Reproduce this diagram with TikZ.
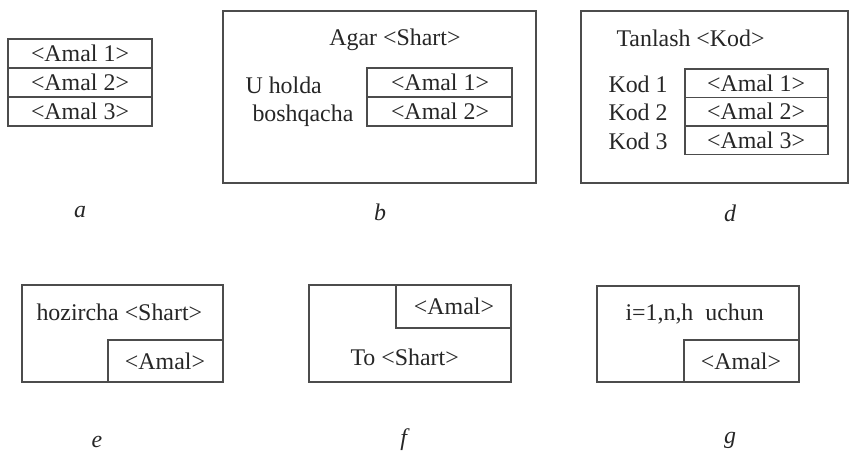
\documentclass[tikz,border=0pt]{standalone}
\usepackage{fontspec}
\setmainfont{Liberation Serif}
\begin{document}
\begin{tikzpicture}[x=0.02cm, y=-0.02cm, line width=.6pt,
    every node/.style={font=\fontsize{13.6}{16}\selectfont, inner sep=0pt, text=black!85},
    blok/.style={draw=black!70}]
\useasboundingbox (0,0) rectangle (853,453);

% a
\foreach \i/\y in {1/39,2/68,3/97}
{
    \draw[blok] (8,\y) rectangle (152,\y+29);
    \node (a\i) at (80,\y+14.5) {<Amal \i>};
}
\node (la) at (80,212) {\textit{a}};

% b
\draw[blok] (223,11) rectangle (536,183);
\node (bshart) at (395,40) {Agar <Shart>};
\foreach \i/\y in {1/68,2/97}
{
    \draw[blok] (367,\y) rectangle (512,\y+29);
    \node (b\i) at (440,\y+14.5) {<Amal \i>};
}
\node[anchor=base west] (bholda) at (245,93) {U holda};
\node[anchor=base west] (bbosh) at (252,121) {boshqacha};
\node (lb) at (380,212) {\textit{b}};

% d
\draw[blok] (581,11) rectangle (848,183);
\node[anchor=base west] (dkod) at (616,47) {Tanlash <Kod>};
\foreach \i/\y in {1/69,2/97.5,3/126}
{
    \draw[blok] (685,\y) rectangle (828,\y+28.5);
    \node (d\i) at (756,\y+14.2) {<Amal \i>};
    \node[anchor=base west] (k\i) at (608,\y+23) {Kod \i};
}
\node (ld) at (730,213) {\textit{d}};

% e
\draw[blok] (22,285) rectangle (223,382);
\draw[blok] (108,340) rectangle (223,382);
\node[anchor=base west] (eshart) at (36,320) {hozircha <Shart>};
\node (eamal) at (165,361) {<Amal>};
\node (le) at (97,442) {\textit{e}};

% f
\draw[blok] (309,285) rectangle (511,382);
\draw[blok] (396,285) rectangle (511,328);
\node (famal) at (454,306) {<Amal>};
\node[anchor=base west] (fshart) at (350,365) {To <Shart>};
\node (lf) at (405,440) {\textit{f}};

% g
\draw[blok] (597,286) rectangle (799,382);
\draw[blok] (684,340) rectangle (799,382);
\node[anchor=base west] (gsikl) at (625,320) {i=1,n,h\ \ uchun};
\node (gamal) at (741,361) {<Amal>};
\node (lg) at (730,440) {\textit{g}};

\end{tikzpicture}
\end{document}
